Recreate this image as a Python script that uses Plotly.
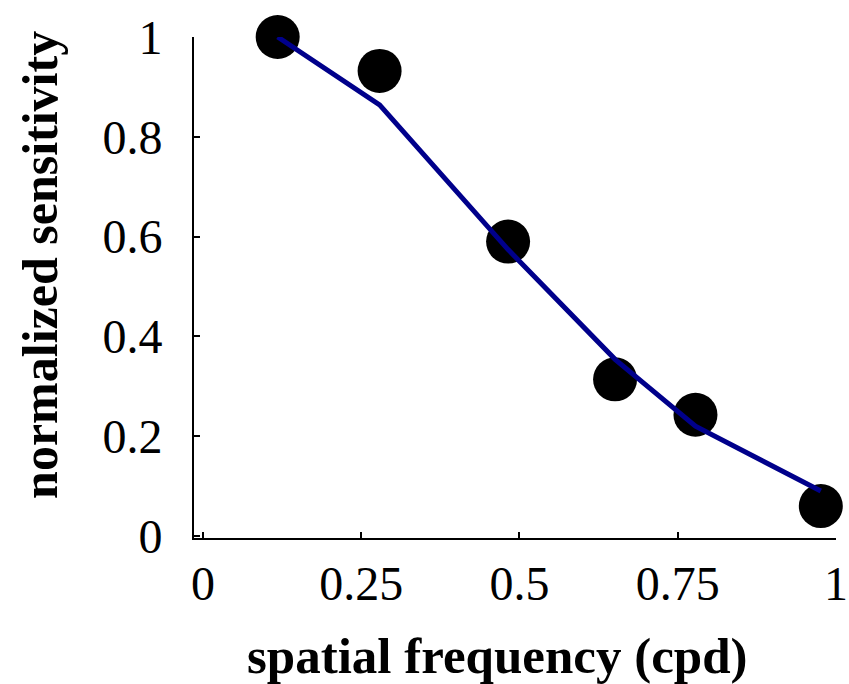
import plotly.graph_objects as go

# data
freq = [0.118, 0.279, 0.482, 0.651, 0.778, 0.976]
sensitivity = [1.0, 0.932, 0.59, 0.314, 0.243, 0.06]
model = [1.0, 0.864, 0.574, 0.354, 0.22, 0.09]

x_ticks = [0, 0.25, 0.5, 0.75, 1]
x_ticktext = ["0", "0.25", "0.5", "0.75", "1"]
y_ticks = [0, 0.2, 0.4, 0.6, 0.8, 1]
y_ticktext = ["0", "0.2", "0.4", "0.6", "0.8", "1"]

FONT = "Liberation Serif"

fig = go.Figure()
fig.add_trace(go.Scatter(
    x=freq, y=sensitivity, mode="markers",
    marker=dict(size=44, color="black"),
    cliponaxis=False, showlegend=False,
))
fig.add_trace(go.Scatter(
    x=freq, y=model, mode="lines",
    line=dict(color="#00008B", width=5),
    cliponaxis=False, showlegend=False,
))

fig.update_layout(
    width=849, height=684,
    margin=dict(l=194, r=13, t=37, b=146),
    plot_bgcolor="white", paper_bgcolor="white",
    font=dict(family=FONT, color="black", size=48),
    xaxis=dict(
        range=[-0.0142, 1.0], tickvals=x_ticks, ticktext=x_ticktext, automargin=False,
        showgrid=False, zeroline=False, showline=True, linecolor="black", linewidth=2,
        ticks="inside", ticklen=6, tickwidth=2, tickcolor="black",
        tickfont=dict(family=FONT, size=48), ticklabelstandoff=2,
    ),
    yaxis=dict(
        range=[-0.004, 1.0], tickvals=y_ticks, ticktext=y_ticktext, automargin=False,
        showgrid=False, zeroline=False, showline=True, linecolor="black", linewidth=2,
        ticks="inside", ticklen=6, tickwidth=2, tickcolor="black",
        tickfont=dict(family=FONT, size=48), ticklabelstandoff=20,
    ),
    annotations=[
        dict(text="<b>spatial frequency (cpd)</b>", xref="paper", yref="paper",
             x=0.472, y=-0.235, xanchor="center", yanchor="middle", showarrow=False,
             font=dict(family=FONT, size=51, color="black")),
        dict(text="<b>normalized sensitivity</b>", xref="paper", yref="paper",
             x=-0.24, y=0.545, xanchor="center", yanchor="middle", showarrow=False,
             textangle=-90, font=dict(family=FONT, size=50, color="black")),
    ],
)

fig.write_html("out.html", config={"displayModeBar": False},
               post_script="document.body.style.margin='0';")
